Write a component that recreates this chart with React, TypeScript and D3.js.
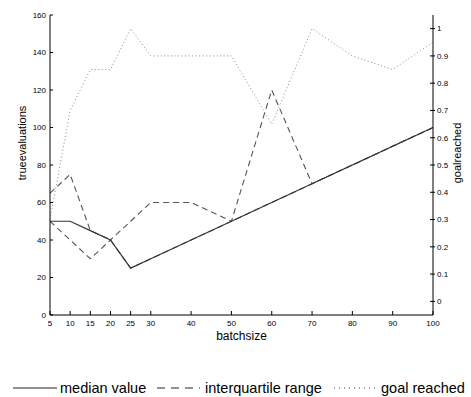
import React from "react";
import * as d3 from "d3";

const batchSizes = [5, 10, 15, 20, 25, 30, 40, 50, 60, 70, 80, 90, 100];
const tickLabels = ["5", "10", "15", "20", "25", "30", "40", "50", "60", "70", "80", "90", "100"];
const medianValue = [50, 50, 45, 40, 25, 30, 40, 50, 60, 70, 80, 90, 100];
const upperQuartile = [65, 75, 45, 40, 25, 30, 40, 50, 60, 70, 80, 90, 100];
const lowerQuartile = [50, 40, 30, 40, 50, 60, 60, 50, 120, 70, 80, 90, 100];
const goalReached = [0.3, 0.7, 0.85, 0.85, 1.0, 0.9, 0.9, 0.9, 0.65, 1.0, 0.9, 0.85, 0.95];
const leftTicks = [0, 20, 40, 60, 80, 100, 120, 140, 160];
const rightTicks = [0, 0.1, 0.2, 0.3, 0.4, 0.5, 0.6, 0.7, 0.8, 0.9, 1];

// position index: 5..30 one unit apart, beyond 30 two units per 10
const posOf = (v: number) => (v <= 30 ? v / 5 - 1 : 5 + ((v - 30) / 10) * 2);

export default function App() {
  const W = 471, H = 397;
  const left = 50, right = 433, top = 15, bottom = 315;
  const x = d3.scaleLinear().domain([0, 19]).range([left, right]);
  const y = d3.scaleLinear().domain([0, 160]).range([bottom, top]);
  const y2 = d3.scaleLinear().domain([-0.05, 1.05]).range([bottom, top]);

  const lineL = d3.line<number>().x((_, i) => x(posOf(batchSizes[i]))).y((d) => y(d));
  const lineR = d3.line<number>().x((_, i) => x(posOf(batchSizes[i]))).y((d) => y2(d));

  const font = "Liberation Sans, Arial, Helvetica, sans-serif";

  return (
    <svg width={W} height={H} style={{ position: "absolute", left: 0, top: 0 }} fontFamily={font}>
      <rect width={W} height={H} fill="#fff" />
      {/* data lines */}
      <path d={lineR(goalReached) || ""} fill="none" stroke="#8a8a8a" strokeWidth={1} strokeDasharray="1,2.5" />
      <path d={lineL(upperQuartile) || ""} fill="none" stroke="#555" strokeWidth={1.1} strokeDasharray="6,4" />
      <path d={lineL(lowerQuartile) || ""} fill="none" stroke="#555" strokeWidth={1.1} strokeDasharray="6,4" />
      <path d={lineL(medianValue) || ""} fill="none" stroke="#333" strokeWidth={1.2} />

      {/* axes */}
      <line x1={left} x2={left} y1={top} y2={bottom} stroke="#000" />
      <line x1={left} x2={right} y1={bottom} y2={bottom} stroke="#000" />
      <line x1={right} x2={right} y1={top} y2={bottom} stroke="#000" />

      {leftTicks.map((t) => (
        <g key={"l" + t}>
          <line x1={left} x2={left + 3} y1={y(t)} y2={y(t)} stroke="#000" />
          <text x={left - 4} y={y(t)} dy="0.35em" textAnchor="end" fontSize={8}>{t}</text>
        </g>
      ))}
      {rightTicks.map((t) => (
        <g key={"r" + t}>
          <line x1={right - 3} x2={right + 2} y1={y2(t)} y2={y2(t)} stroke="#000" />
          <text x={right + 4} y={y2(t)} dy="0.35em" textAnchor="start" fontSize={8}>{t}</text>
        </g>
      ))}
      {batchSizes.map((b, i) => (
        <g key={"b" + i}>
          <line x1={x(posOf(b))} x2={x(posOf(b))} y1={bottom} y2={bottom - 4} stroke="#000" />
          <text x={x(posOf(b))} y={bottom + 11} textAnchor="middle" fontSize={8}>{tickLabels[i]}</text>
        </g>
      ))}

      <text x={(left + right) / 2} y={340} textAnchor="middle" fontSize={12}>batchsize</text>
      <text transform={`translate(26,143) rotate(-90)`} textAnchor="middle" fontSize={11}>trueevaluations</text>
      <text transform={`translate(461,153) rotate(-90)`} textAnchor="middle" fontSize={11}>goalreached</text>

      {/* legend */}
      <g fontSize={14.5}>
        <line x1={13} x2={57} y1={388} y2={388} stroke="#222" strokeWidth={1} />
        <text x={60} y={393}>median value</text>
        <line x1={157} x2={200} y1={388} y2={388} stroke="#222" strokeWidth={1} strokeDasharray="8,6" />
        <text x={205} y={393}>interquartile range</text>
        <line x1={334} x2={376} y1={388} y2={388} stroke="#444" strokeWidth={1} strokeDasharray="1,4" />
        <text x={381} y={393}>goal reached</text>
      </g>
    </svg>
  );
}
